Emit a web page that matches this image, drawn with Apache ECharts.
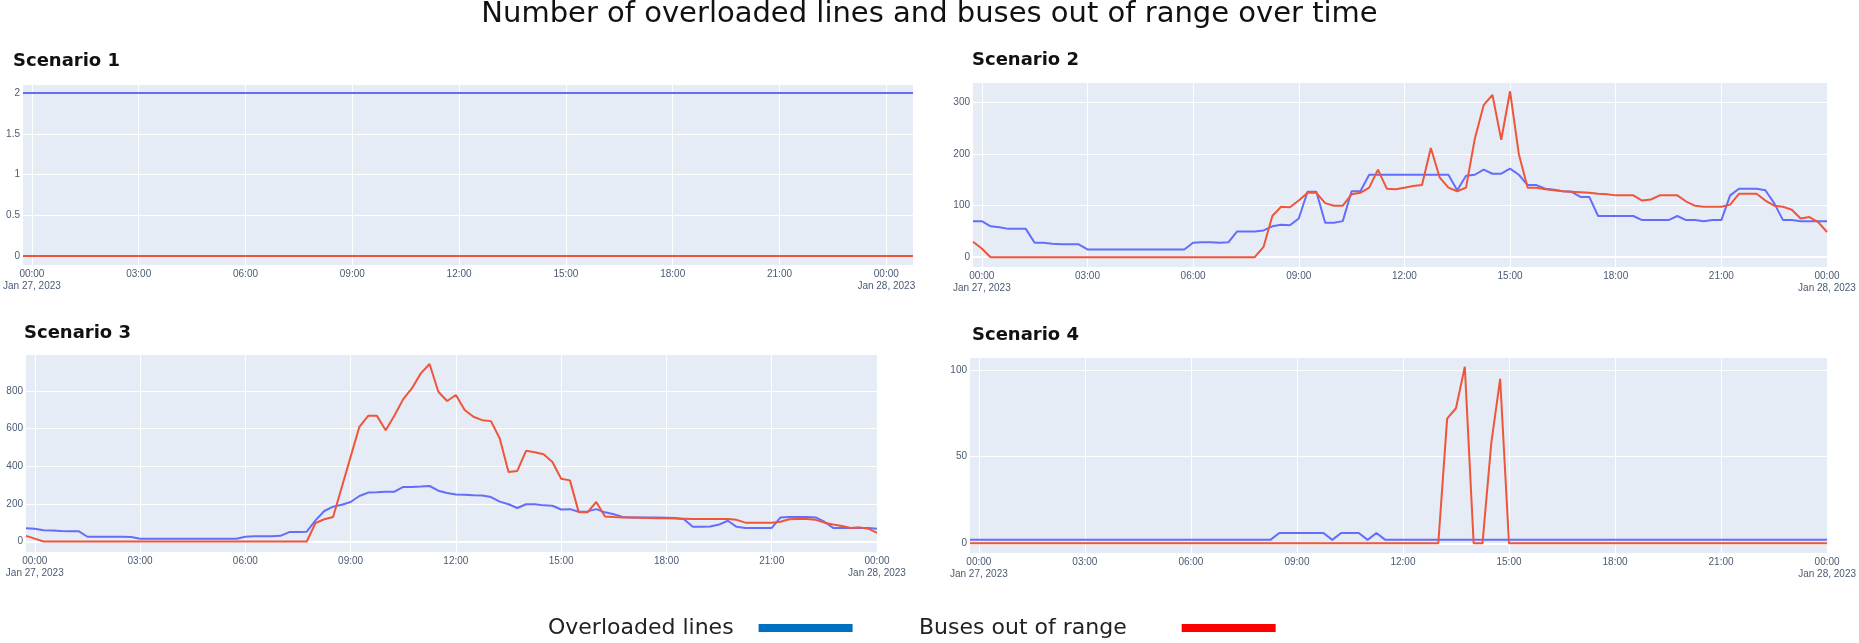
<!DOCTYPE html>
<html lang="en">
<head>
<meta charset="utf-8">
<title>Number of overloaded lines and buses out of range over time</title>
<script src="https://cdn.jsdelivr.net/npm/echarts@6.0.0/dist/echarts.min.js"></script>
<style>
  html, body { margin: 0; padding: 0; background: #fff; }
  #main { width: 1859px; height: 643px; }
</style>
</head>
<body>
<div id="main"></div>
<script>
// values, one point every 15 minutes, first point 23:45 Jan 26
var s1Lines = [2,2,2,2,2,2,2,2,2,2, 2,2,2,2,2,2,2,2,2,2, 2,2,2,2,2,2,2,2,2,2,
  2,2,2,2,2,2,2,2,2,2, 2,2,2,2,2,2,2,2,2,2, 2,2,2,2,2,2,2,2,2,2,
  2,2,2,2,2,2,2,2,2,2, 2,2,2,2,2,2,2,2,2,2, 2,2,2,2,2,2,2,2,2,2,
  2,2,2,2,2,2,2,2,2,2, 2];
var s1Buses = [0,0,0,0,0,0,0,0,0,0, 0,0,0,0,0,0,0,0,0,0, 0,0,0,0,0,0,0,0,0,0,
  0,0,0,0,0,0,0,0,0,0, 0,0,0,0,0,0,0,0,0,0, 0,0,0,0,0,0,0,0,0,0,
  0,0,0,0,0,0,0,0,0,0, 0,0,0,0,0,0,0,0,0,0, 0,0,0,0,0,0,0,0,0,0,
  0,0,0,0,0,0,0,0,0,0, 0];

var s2Lines = [70,70,60,58,55,55,55,28,28,26,25,25,25,15,
  15,15,15,15,15,15,15,15,15,15,15,
  28,29,29,28,29,50,50,50,52,60,63,62,75,127,127,67,67,70,128,128,160,
  160,160,160,160,160,160,160,160,160,
  130,158,160,170,162,162,172,160,140,140,
  133,131,128,127,117,117,80,80,80,80,
  80,72,72,72,72,80,72,72,70,72,
  72,120,133,133,133,130,105,72,72,70,
  70,70,70];
var s2Buses = [30,17,0,0,0,0,0,0,0,0, 0,0,0,0,0,0,0,0,0,0,
  0,0,0,0,0,0,0,0,0,0, 0,0,0,20,80,98,97,110,125,125,
  105,100,100,122,125,135,170,133,132,135, 138,140,212,155,135,128,135,230,295,315,
  228,322,200,135,135,132,130,128,127,126, 125,123,122,120,120,120,110,112,120,120,
  120,108,100,98,98,98,102,123,123,123, 110,100,98,92,75,78,68,49];

var s3Lines = [70,68,60,58,56,55,55,25,25,25,25,25,24,15,
  15,15,15,15,15,15,15,15,15,15,15,
  25,28,28,28,30,50,50,52,112,162,185,195,210,242,260,262,265,265,290,290,292,295,270,258,
  250,248,246,245,236,212,198,178,198,198,192,190,170,172,158,160,172,155,145,130,
  128,128,127,127,126,125,118,78,78,80,90,110,78,72,72,72,72,
  128,130,130,130,128,105,72,72,72,72,72,68];
var s3Buses = [30,15,0,0,0,0,0,0,0,0, 0,0,0,0,0,0,0,0,0,0,
  0,0,0,0,0,0,0,0,0,0, 0,0,0,98,118,130,290,450,610,668,
  668,592,670,757,815,894,944,796,747,779, 699,663,645,640,548,370,375,482,475,464,
  423,334,325,156,155,210,133,130,128,127, 126,125,124,123,122,121,120,120,120,120,
  120,115,100,100,100,100,105,118,120,120, 115,100,90,82,72,75,68,46];

var s4Lines = [2,2,2,2,2,2,2,2,2,2, 2,2,2,2,2,2,2,2,2,2,
  2,2,2,2,2,2,2,2,2,2, 2,2,2,2,2,6,6,6,6,6,
  6,2,6,6,6,2,6,2,2,2, 2,2,2,2,2,2,2,2,2,2,
  2,2,2,2,2,2,2,2,2,2, 2,2,2,2,2,2,2,2,2,2,
  2,2,2,2,2,2,2,2,2,2, 2,2,2,2,2,2,2,2];
var s4Buses = [0,0,0,0,0,0,0,0,0,0, 0,0,0,0,0,0,0,0,0,0,
  0,0,0,0,0,0,0,0,0,0, 0,0,0,0,0,0,0,0,0,0,
  0,0,0,0,0,0,0,0,0,0, 0,0,0,0,72,78,102,0,0,58,
  95,0,0,0,0,0,0,0,0,0, 0,0,0,0,0,0,0,0,0,0,
  0,0,0,0,0,0,0,0,0,0, 0,0,0,0,0,0,0,0];

var scenarioNames = ['Scenario 1', 'Scenario 2', 'Scenario 3', 'Scenario 4'];
var seriesNames = ['Overloaded lines', 'Buses out of range'];
var dateLabels = {'2023-01-27': 'Jan 27, 2023', '2023-01-28': 'Jan 28, 2023'};

// time categories, 15 min apart
var startTime = Date.UTC(2023, 0, 26, 23, 45);
var times = [];
for (var i = 0; i < 101; i++) {
  var d = new Date(startTime + i * 15 * 60000);
  var p = function (n) { return (n < 10 ? '0' : '') + n; };
  times.push(d.getUTCFullYear() + '-' + p(d.getUTCMonth() + 1) + '-' + p(d.getUTCDate()) +
    ' ' + p(d.getUTCHours()) + ':' + p(d.getUTCMinutes()));
}

var tickFont = '"Liberation Sans", Arial, sans-serif';
var textFont = '"DejaVu Sans", sans-serif';
var blue = '#636efa', red = '#ef553b';

function isTick(index) { return (index - 1) % 12 === 0; }
function timeLabel(v) {
  var parts = v.split(' ');
  if (parts[1] === '00:00') return '00:00\n' + dateLabels[parts[0]];
  return parts[1];
}

var grids = [
  {left: 21, top: 84, width: 892, height: 181},
  {left: 973, top: 82, width: 854, height: 185},
  {left: 26, top: 354, width: 851, height: 198},
  {left: 970, top: 357, width: 865, height: 196}
];
var yRanges = [[-0.111, 2.111, 0.5], [-19, 340, 100], [-56, 997, 200], [-5.6, 107.6, 50]];
var counts = [101, 98, 98, 98];
var lineData = [s1Lines, s2Lines, s3Lines, s4Lines];
var busData = [s1Buses, s2Buses, s3Buses, s4Buses];

var xAxes = [], yAxes = [], series = [];
grids.forEach(function (g, k) {
  g.show = true;
  g.backgroundColor = '#e5ecf6';
  g.borderWidth = 0;
  xAxes.push({
    type: 'category', gridIndex: k, data: times.slice(0, counts[k]), boundaryGap: false,
    axisLine: {show: false}, axisTick: {show: false},
    axisLabel: {interval: isTick, margin: 3, fontSize: 10, lineHeight: 12, color: '#4a5a72',
      fontFamily: tickFont, formatter: timeLabel},
    splitLine: {show: true, interval: isTick, lineStyle: {color: '#ffffff', width: 1}}
  });
  var step = yRanges[k][2];
  yAxes.push({
    type: 'value', gridIndex: k, min: yRanges[k][0], max: yRanges[k][1],
    splitNumber: k === 3 ? 2 : 5,
    axisLine: {show: false}, axisTick: {show: false},
    axisLabel: {margin: 3, fontSize: 10, color: '#4a5a72', fontFamily: tickFont,
      formatter: function (v) {
        var r = v / step;
        return Math.abs(r - Math.round(r)) < 1e-6 ? String(Math.round(r) * step) : '';
      }},
    splitLine: {show: true, lineStyle: {color: '#ffffff', width: 1}}
  });
  // white zero line under the data, as in plotly
  series.push({
    type: 'line', xAxisIndex: k, yAxisIndex: k, data: [], silent: true, z: 1,
    markLine: {z: 1, symbol: 'none', silent: true, animation: false, label: {show: false},
      lineStyle: {color: '#ffffff', width: 2, type: 'solid'}, data: [{yAxis: 0}]}
  });
  series.push({
    name: seriesNames[0], type: 'line', xAxisIndex: k, yAxisIndex: k, data: lineData[k],
    symbol: 'none', showSymbol: false, z: 3, lineStyle: {width: 2, color: blue}, itemStyle: {color: blue}
  });
  series.push({
    name: seriesNames[1], type: 'line', xAxisIndex: k, yAxisIndex: k, data: busData[k],
    symbol: 'none', showSymbol: false, z: 4, lineStyle: {width: 2, color: red}, itemStyle: {color: red}
  });
});

var titlePos = [[13, 52], [972, 51], [24, 324], [972, 326]];
var titles = [{
  text: 'Number of overloaded lines and buses out of range over time',
  left: 'center', top: 0, padding: 0,
  textStyle: {fontSize: 29, fontWeight: 'normal', color: '#111', fontFamily: textFont}
}];
scenarioNames.forEach(function (s, k) {
  titles.push({text: s, left: titlePos[k][0], top: titlePos[k][1], padding: 0,
    textStyle: {fontSize: 18, fontWeight: 'bold', color: '#111', fontFamily: textFont}});
});

function legendFor(name, color, left, gap) {
  return {
    data: [{name: name, itemStyle: {color: color}}],
    left: left, top: 617, padding: 0, align: 'right', icon: 'rect',
    itemWidth: 94, itemHeight: 8, selectedMode: false,
    textStyle: {fontSize: 22, color: '#222', fontFamily: textFont, padding: [0, gap, 0, 0]}
  };
}

var myChart = echarts.init(document.getElementById('main'));
myChart.setOption({
  animation: false,
  title: titles,
  legend: [legendFor(seriesNames[0], '#0070c0', 548, 20), legendFor(seriesNames[1], '#ff0000', 919, 50)],
  grid: grids,
  xAxis: xAxes,
  yAxis: yAxes,
  series: series
});
</script>
</body>
</html>
